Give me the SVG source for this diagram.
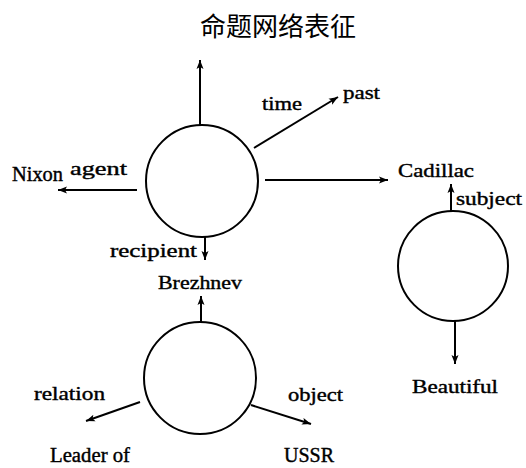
<svg xmlns="http://www.w3.org/2000/svg" width="526" height="468" viewBox="0 0 526 468">
<defs>
<marker id="ah" markerUnits="userSpaceOnUse" markerWidth="10" markerHeight="8" refX="9" refY="4" orient="auto">
<path d="M0,0.5 L9,4 L0,7.5 L2,4 Z" fill="#000"/>
</marker>
<style>
.n{fill:none;stroke:#000;stroke-width:2}
.c line{stroke:#000;stroke-width:2;marker-end:url(#ah)}
text{font-family:"Liberation Serif","Times New Roman",serif;font-size:19px;fill:#000;stroke:#000;stroke-width:0.4}
.b{font-size:20px}
.t{font-family:"Noto Sans CJK SC","Noto Sans",sans-serif;font-size:26px;stroke:none}
</style>
</defs>
<rect width="526" height="468" fill="#fff"/>
<text class="t" x="278" y="36" text-anchor="middle">命题网络表征</text>
<g id="p1"><circle class="n" cx="202" cy="181" r="56"/></g>
<g id="p2"><circle class="n" cx="453" cy="266" r="55"/></g>
<g id="p3"><circle class="n" cx="200" cy="378" r="56"/></g>
<g class="c" id="connectors">
<line x1="200" y1="125" x2="200" y2="60"/>
<line x1="254" y1="148" x2="338" y2="97"/>
<line x1="137" y1="190" x2="58" y2="190"/>
<line x1="265" y1="180" x2="388" y2="180"/>
<line x1="205" y1="237" x2="205" y2="260"/>
<line x1="201" y1="322" x2="201" y2="296"/>
<line x1="140" y1="402" x2="86" y2="421"/>
<line x1="251" y1="405" x2="311" y2="424"/>
<line x1="451" y1="211" x2="451" y2="184"/>
<line x1="455" y1="321" x2="455" y2="364"/>
</g>
<g id="labels">
<text x="262" y="110" textLength="40" lengthAdjust="spacingAndGlyphs">time</text>
<text x="343" y="99" textLength="37" lengthAdjust="spacingAndGlyphs">past</text>
<text class="b" x="12" y="181" textLength="51" lengthAdjust="spacingAndGlyphs">Nixon</text>
<text x="70" y="175" textLength="57" lengthAdjust="spacingAndGlyphs">agent</text>
<text x="398" y="177" textLength="76" lengthAdjust="spacingAndGlyphs">Cadillac</text>
<text x="456" y="205" textLength="66" lengthAdjust="spacingAndGlyphs">subject</text>
<text x="110" y="257" textLength="87" lengthAdjust="spacingAndGlyphs">recipient</text>
<text x="158" y="289" textLength="84" lengthAdjust="spacingAndGlyphs">Brezhnev</text>
<text x="412" y="393" textLength="86" lengthAdjust="spacingAndGlyphs">Beautiful</text>
<text x="34" y="400" textLength="71" lengthAdjust="spacingAndGlyphs">relation</text>
<text x="288" y="401" textLength="55" lengthAdjust="spacingAndGlyphs">object</text>
<text class="b" x="50" y="462" textLength="80" lengthAdjust="spacingAndGlyphs">Leader of</text>
<text class="b" x="284" y="462" textLength="50" lengthAdjust="spacingAndGlyphs">USSR</text>
</g>
</svg>
